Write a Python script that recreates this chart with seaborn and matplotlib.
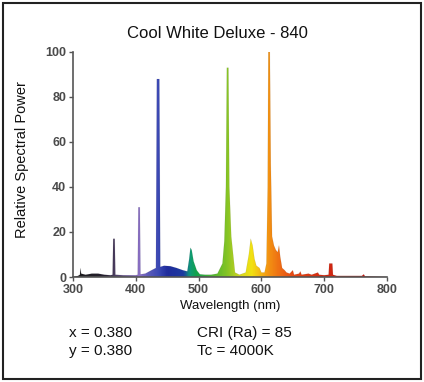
"""Cool White Deluxe - 840 spectral power distribution."""

import matplotlib

matplotlib.use("Agg")

import matplotlib.pyplot as plt
import numpy as np
import seaborn as sns
from matplotlib.colors import LinearSegmentedColormap
from matplotlib.patches import Rectangle

# spectrum (nm, relative power)
wavelengths = [
    300, 308, 311, 312, 313, 320, 330, 340, 350, 360, 363, 364, 366.5, 367.5,
    380, 400, 403, 404, 406.5, 407.5, 415, 425, 432, 433.5, 437.5, 439, 445, 455,
    465, 475, 482, 485, 487, 489, 492, 497, 502, 510, 520, 530, 538, 541,
    543.5, 545, 547.5, 549, 552, 555, 558, 565, 575, 580, 583, 586, 589, 592,
    597, 600, 605, 608, 610, 611, 613.5, 615, 617, 620, 623, 626, 628, 630,
    633, 637, 640, 645, 650, 652, 660, 662, 664, 675, 680, 690, 692, 700,
    707, 708, 713, 714, 720, 760, 763, 765, 800,
]
power = [
    0, 0.5, 1, 4, 1.5, 1, 1.5, 1.5, 1, 0.8, 1, 17, 17, 1,
    0.8, 0.8, 1, 31, 31, 1.2, 1.5, 3, 4, 88, 88, 4.5, 5, 4.8,
    4, 3, 2.5, 8, 13, 12, 7, 3, 1.2, 1, 1, 1.5, 6, 16,
    40, 93, 93, 40, 18, 10, 2, 1, 2, 10, 17, 14, 8, 5,
    4, 2, 2, 6, 40, 100, 100, 50, 18, 14, 12, 11, 14, 9,
    4, 3, 2, 1.5, 3, 1, 1.5, 2.5, 1, 1.5, 1, 2, 1, 0.8,
    1, 6, 6, 1, 0.5, 0.5, 1.2, 0.3, 0,
]

title = "Cool White Deluxe - 840"
x_ticks = [300, 400, 500, 600, 700, 800]
y_ticks = [0, 20, 40, 60, 80, 100]
info_left = ["x = 0.380", "y = 0.380"]
info_right = ["CRI (Ra) = 85", "Tc = 4000K"]

# colour of the light along the wavelength axis
spectrum_stops = [
    (300, "#1a1a1a"), (350, "#262030"), (365, "#4a3c5e"), (395, "#7a64b0"),
    (405, "#8a70c4"), (420, "#5a5ab8"), (436, "#3a48b4"), (450, "#1f2c9c"),
    (476, "#1c3aa0"), (486, "#0f9a78"), (496, "#12a24c"), (520, "#4cb432"),
    (546, "#86c424"), (568, "#d8d820"), (585, "#f2e212"), (600, "#f4b414"),
    (611, "#f39412"), (630, "#ee6c14"), (650, "#e64a14"), (700, "#d22a12"),
    (800, "#c01010"),
]

sns.set_style("ticks")
plt.rcParams["font.family"] = ["Liberation Sans", "DejaVu Sans"]

fig = plt.figure(figsize=(4.24, 3.82), dpi=100)
ax = fig.add_axes([73 / 424, 1 - 277 / 382, 314 / 424, 225 / 382])

lo, hi = spectrum_stops[0][0], spectrum_stops[-1][0]
cmap = LinearSegmentedColormap.from_list(
    "spectrum", [((w - lo) / (hi - lo), c) for w, c in spectrum_stops]
)

poly = ax.fill_between(wavelengths, power, color="none", lw=0)
ramp = np.linspace(0, 1, 600).reshape(1, -1)
im = ax.imshow(
    ramp, extent=[lo, hi, 0, 100], aspect="auto", cmap=cmap,
    origin="lower", interpolation="bilinear", zorder=2,
)
im.set_clip_path(poly.get_paths()[0], transform=ax.transData)
sns.lineplot(x=wavelengths, y=power, ax=ax, color="#222222", lw=0.3,
             alpha=0.15, zorder=3)

ax.set_xlim(300, 800)
ax.set_ylim(0, 100)
ax.set_xticks(x_ticks)
ax.set_yticks(y_ticks)
sns.despine(ax=ax)
for side in ("left", "bottom"):
    ax.spines[side].set_color("#555555")
    ax.spines[side].set_linewidth(1.2)
ax.tick_params(colors="#555555", length=3, width=1, pad=2,
               labelsize=9, labelcolor="#4a4a4a")
for lab in ax.get_xticklabels() + ax.get_yticklabels():
    lab.set_fontweight("bold")

ax.set_xlabel("Wavelength (nm)", fontsize=9.5, color="#111111", labelpad=3)
ax.set_ylabel("Relative Spectral Power", fontsize=10.5, color="#111111")
ax.yaxis.set_label_coords(-0.14, 0.52)

fig.text(0.512, 1 - 33 / 382, title, ha="center", va="center",
         fontsize=12, color="#111111")
for i, (left, right) in enumerate(zip(info_left, info_right)):
    y = 1 - (333 + 18 * i) / 382
    fig.text(69 / 424, y, left, ha="left", va="center", fontsize=11,
             color="#111111")
    fig.text(197 / 424, y, right, ha="left", va="center", fontsize=11,
             color="#111111")

fig.patches.append(Rectangle((3 / 424, 3 / 382), 418 / 424, 376 / 382,
                             transform=fig.transFigure, fill=False,
                             edgecolor="#222222", lw=1.5))

fig.savefig("out.png", dpi=100, facecolor="white")
plt.close(fig)
